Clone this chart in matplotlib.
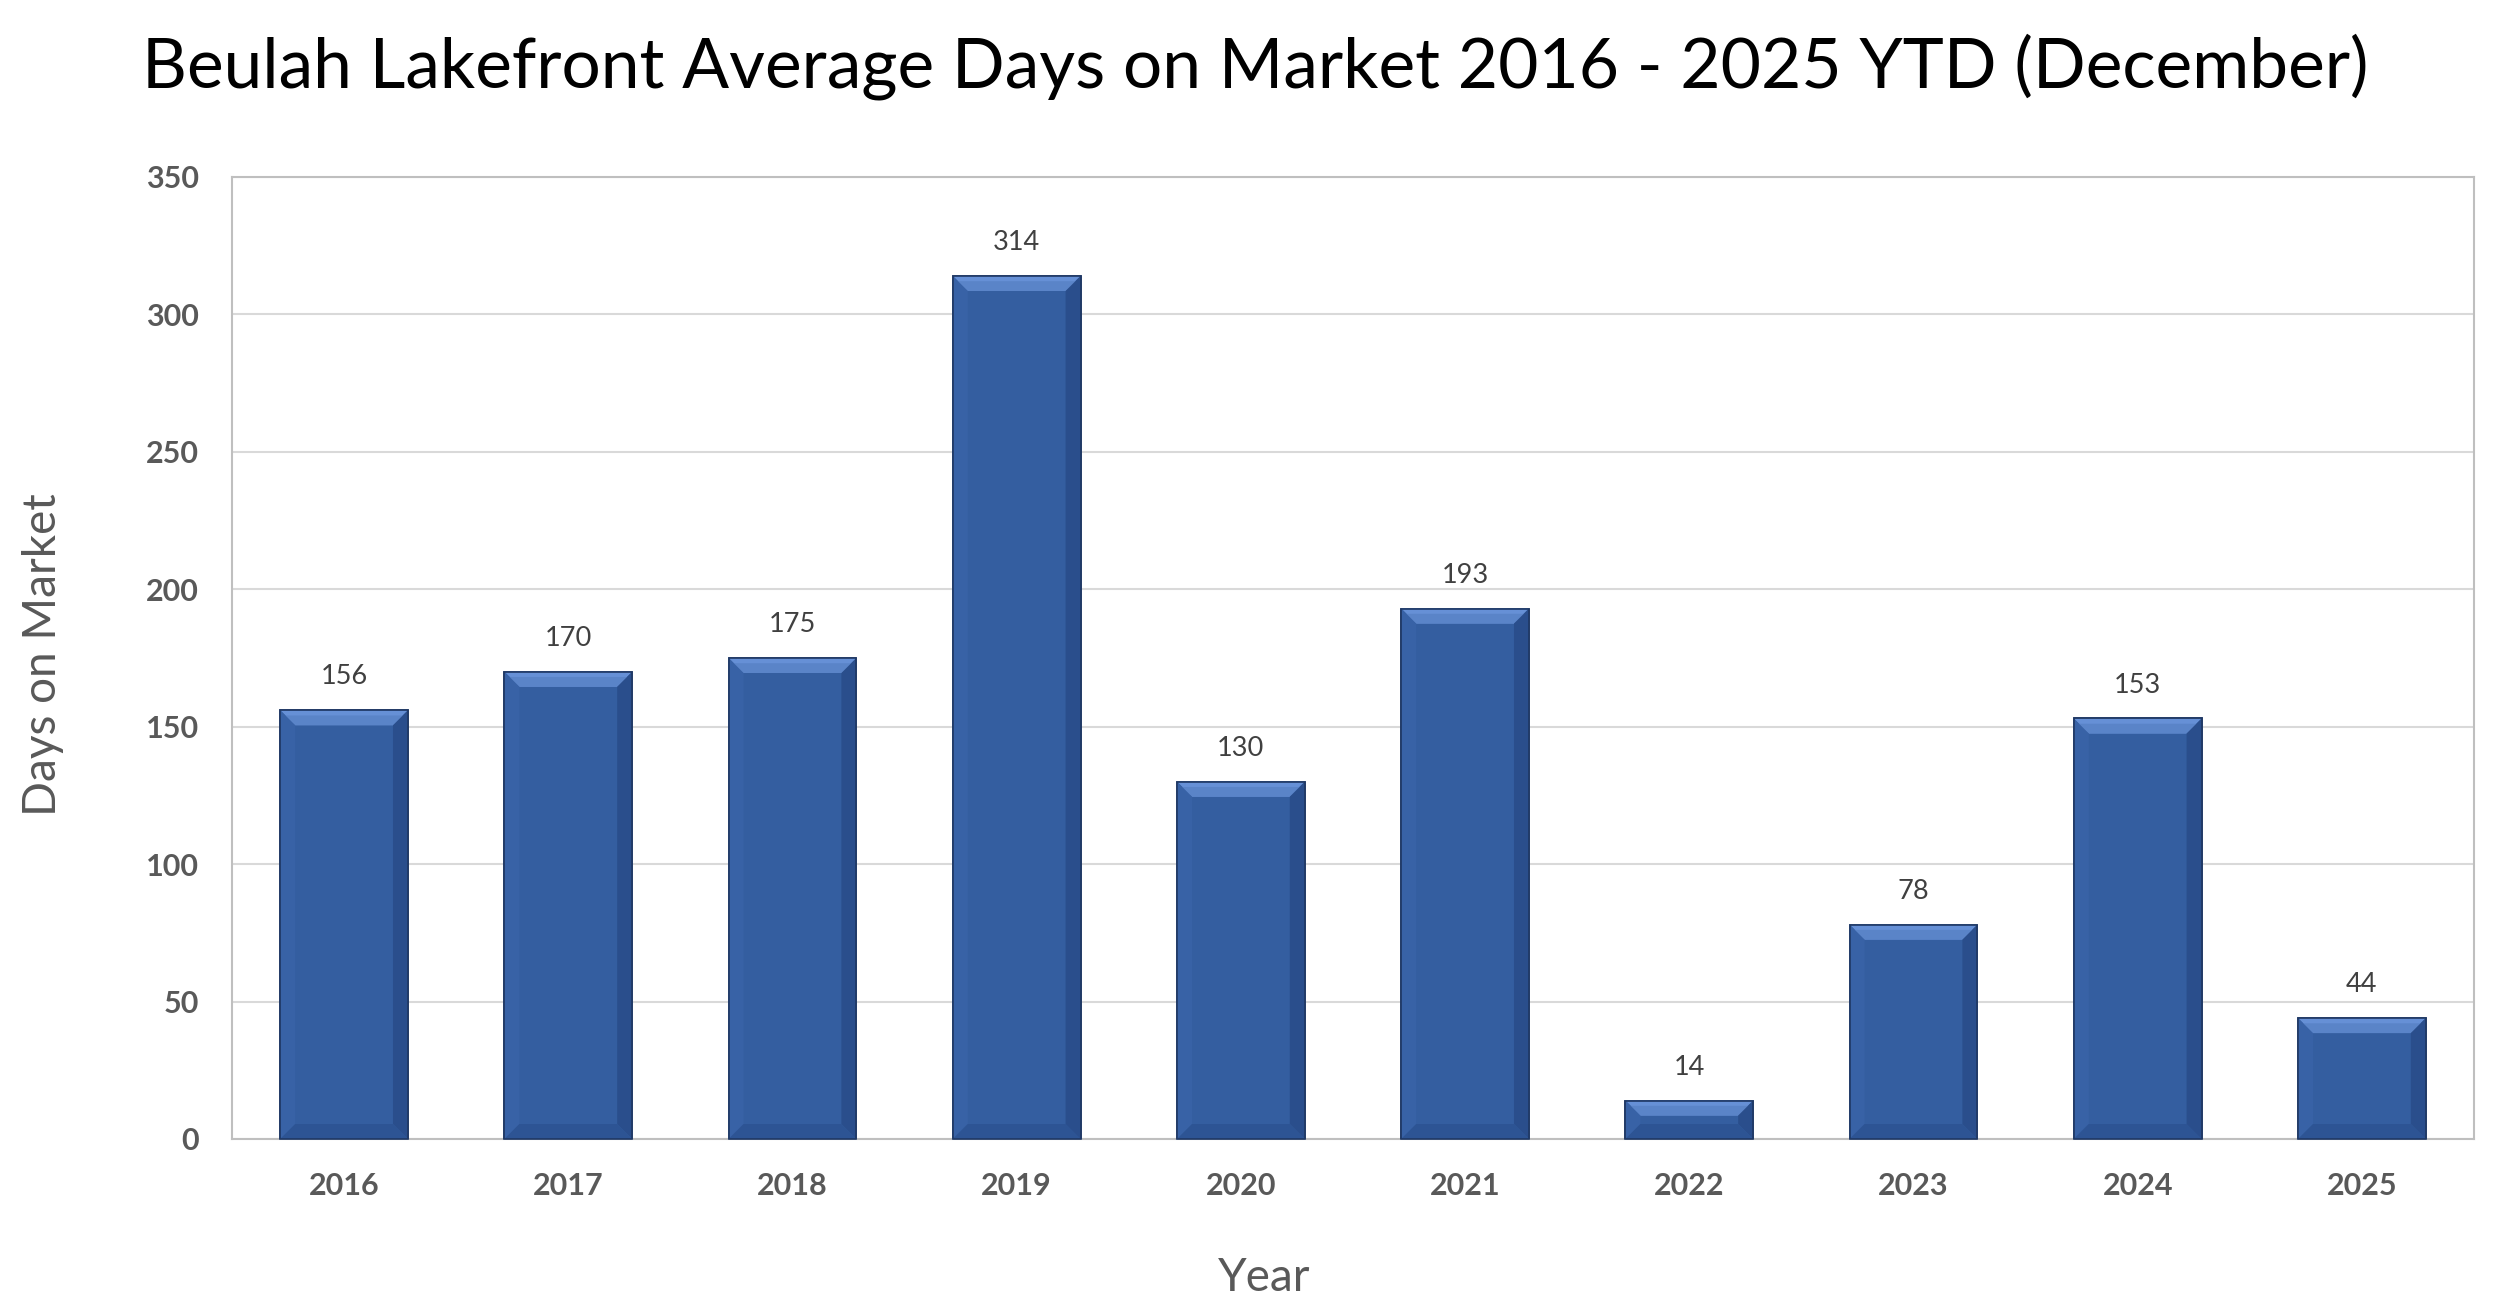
import matplotlib
matplotlib.use("Agg")
import matplotlib.pyplot as plt
from matplotlib.patches import Polygon

years = ["2016", "2017", "2018", "2019", "2020", "2021", "2022", "2023", "2024", "2025"]
days = [156, 170, 175, 314, 130, 193, 14, 78, 153, 44]
yticks = [0, 50, 100, 150, 200, 250, 300, 350]

plt.rcParams['font.family'] = ['Lato', 'DejaVu Sans']

W, H = 2500, 1314
fig = plt.figure(figsize=(W / 100, H / 100), dpi=100)
L, R, T, B = 232, 2474, 177, 1139
ax = fig.add_axes([L / W, 1 - B / H, (R - L) / W, (B - T) / H])

x = list(range(len(years)))
bars = ax.bar(x, days, width=0.57, color='#345EA0', edgecolor='#1F3864', linewidth=1.2, zorder=3)

ax.set_xlim(-0.5, len(years) - 0.5)
ax.set_ylim(0, 350)
ax.set_yticks(yticks)
ax.set_xticks(x)
ax.set_xticklabels(years)
ax.grid(axis='y', color='#D9D9D9', linewidth=1.5, zorder=0)
for s in ax.spines.values():
    s.set_color('#BFBFBF')
    s.set_linewidth(1.5)
ax.tick_params(length=0)
ax.tick_params(axis='y', pad=24, labelsize=22, labelcolor='#595959')
ax.tick_params(axis='x', pad=24, labelsize=22, labelcolor='#595959')
for lab in ax.get_xticklabels() + ax.get_yticklabels():
    lab.set_fontweight('bold')

# bevel effect built from each bar's display extent
fig.canvas.draw()
b = 15
for rect in bars:
    bb = rect.get_window_extent()
    x0, x1, y0, y1 = bb.x0, bb.x1, bb.y0, bb.y1
    bv = min(b, (y1 - y0) / 2.2)
    polys = [
        ([(x0, y1), (x1, y1), (x1 - bv, y1 - bv), (x0 + bv, y1 - bv)], '#6690D6'),
        ([(x0, y1 - bv * 0.35), (x1, y1 - bv * 0.35), (x1 - bv, y1 - bv), (x0 + bv, y1 - bv)], '#5A84C8'),
        ([(x0, y0), (x0, y1), (x0 + bv, y1 - bv), (x0 + bv, y0 + bv)], '#3862A6'),
        ([(x1, y0), (x1, y1), (x1 - bv, y1 - bv), (x1 - bv, y0 + bv)], '#2A4E8C'),
        ([(x0, y0), (x1, y0), (x1 - bv, y0 + bv), (x0 + bv, y0 + bv)], '#2D5494'),
    ]
    for pts, c in polys:
        p = Polygon(pts, closed=True, facecolor=c, edgecolor='none',
                    transform=None, zorder=4)
        fig.add_artist(p)
    edge = Polygon([(x0, y0), (x1, y0), (x1, y1), (x0, y1)], closed=True,
                   facecolor='none', edgecolor='#1F3864', linewidth=1.2,
                   transform=None, zorder=5)
    fig.add_artist(edge)

for xi, v in zip(x, days):
    ax.annotate(str(v), (xi, v), xytext=(0, 15), textcoords='offset points',
                ha='center', va='bottom', fontsize=19.5, color='#404040')

fig.text(1255 / W, 1 - 67 / H, "Beulah Lakefront Average Days on Market 2016 - 2025 YTD (December)",
         ha='center', va='center', fontsize=50, color='black')
fig.text(1264 / W, 1 - 1278 / H, "Year", ha='center', va='center',
         fontsize=33, color='#595959')
fig.text(43 / W, 1 - 655 / H, "Days on Market", ha='center', va='center',
         rotation=90, fontsize=33, color='#595959')

fig.savefig("out.png", dpi=100, facecolor='white')
